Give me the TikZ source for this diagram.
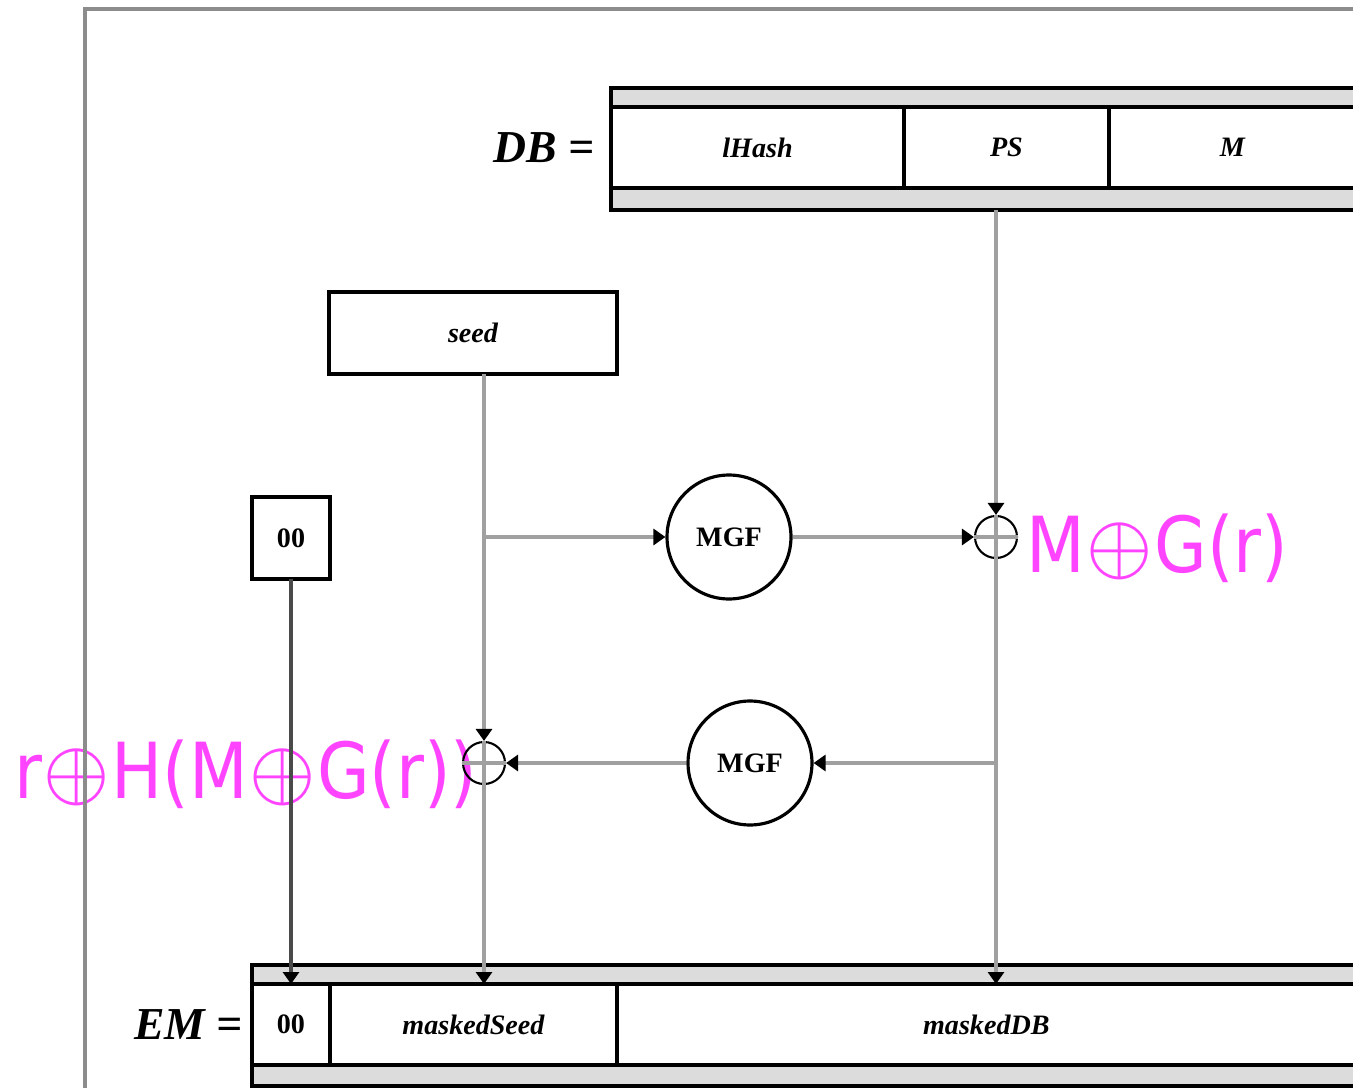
\documentclass[tikz,border=0pt]{standalone}
\usepackage{graphicx}
\usepackage{fontspec}
\setmainfont{Liberation Serif}
\newfontfamily\magfont[FakeStretch=0.88]{DejaVu Sans}
\usetikzlibrary{arrows.meta, positioning, calc}
\definecolor{bandgray}{HTML}{DCDCDC}
\definecolor{wiregray}{HTML}{A0A0A0}
\definecolor{wiredark}{HTML}{4A4A4A}
\definecolor{framegray}{HTML}{8C8C8C}
\definecolor{annot}{HTML}{FF44FF}
\newcommand\oplusthin{\kern-0.05cm{\fontsize{5}{6}\selectfont\raisebox{0.07cm}{\scalebox{7.8}{$\oplus$}}}\kern-0.05cm}

\begin{document}
\begin{tikzpicture}[
        x=0.02cm, y=-0.02cm,
        lbl/.style={font=\fontsize{16}{18}\selectfont\bfseries\itshape},
        cell/.style={
            rectangle,
            draw=black, line width=2pt,
            fill=white,
            inner sep=0pt, outer sep=0pt,
            minimum height=1.62cm,
            lbl
        },
        band/.style={rectangle, draw=black, line width=2pt, fill=bandgray, inner sep=0pt, outer sep=0pt},
        fnode/.style={circle, draw=black, line width=1.8pt, minimum size=2.48cm, inner sep=0pt, font=\fontsize{16}{18}\selectfont\bfseries},
        xornode/.style={circle, draw=black, line width=1.2pt, minimum size=0.84cm, inner sep=0pt},
        eqlabel/.style={inner sep=0pt, font=\fontsize{26}{30}\selectfont\bfseries\itshape},
        annotation/.style={inner sep=0pt, text=annot, font=\magfont\fontsize{44}{48}\selectfont},
        wire/.style={draw=wiregray, line width=1.8pt},
        arr/.style={-{Triangle[length=0.24cm, width=0.32cm, color=black]}}
    ]

    \useasboundingbox (0,0) rectangle (1353,1088);
    \clip (0,0) rectangle (1353,1088);

    % Annotations (under the wires)
    \node[annotation, anchor=base west] (lblmg) at (1026,572) {M\oplusthin G(r)};
    \node[annotation, anchor=base west] (lblout) at (14,798) {r\oplusthin H(M\oplusthin G(r))};

    % Frame
    \draw[framegray, line width=2.4pt] (85,1100) -- (85,9) -- (1370,9);

    % DB
    \node[cell, minimum width=5.86cm, anchor=north west] (lhash) at (611,107) {lHash};
    \node[cell, minimum width=4.1cm, right=0pt of lhash] (ps) {PS};
    \node[cell, minimum width=4.94cm, right=0pt of ps] (m) {M};
    \node[band, minimum width=14.9cm, minimum height=0.38cm, anchor=south west] (dbtop) at (lhash.north west) {};
    \node[band, minimum width=14.9cm, minimum height=0.44cm, anchor=north west] (dbbot) at (lhash.south west) {};
    \node[eqlabel, left=0.32cm of lhash] (dblbl) {DB =};

    % Inputs
    \node[cell, minimum width=5.76cm, minimum height=1.64cm] (seed) at (473,333) {seed};
    \node[cell, minimum width=1.56cm, minimum height=1.64cm, font=\fontsize{16}{18}\selectfont\bfseries] (zero) at (291,538) {00};

    % Mask generation
    \node[fnode] (mgfa) at (729,537) {MGF};
    \node[fnode] (mgfb) at (750,763) {MGF};
    \node[xornode] (xora) at (996,537) {};
    \node[xornode] (xorb) at (484,763) {};

    % EM
    \node[cell, minimum width=1.56cm, anchor=north west, font=\fontsize{16}{18}\selectfont\bfseries] (emzero) at (252,984) {00};
    \node[cell, minimum width=5.74cm, right=0pt of emzero] (emseed) {maskedSeed};
    \node[cell, minimum width=14.78cm, right=0pt of emseed] (emdb) {maskedDB};
    \node[band, minimum width=22.08cm, minimum height=0.38cm, anchor=south west] (emtop) at (emzero.north west) {};
    \node[band, minimum width=22.08cm, minimum height=0.42cm, anchor=north west] (embot) at (emzero.south west) {};
    \node[eqlabel, left=0.18cm of emzero] (emlbl) {EM =};

    \coordinate (split) at (xorb |- mgfa);
    \coordinate (tap) at (xora |- mgfb);

    % Wires
    \draw[wire, arr] (seed.south -| xorb) -- (xorb.north);
    \draw[wire, arr] (xorb.south) -- (xorb |- emseed.north);
    \draw[wire, arr] (split) -- (mgfa.west);
    \draw[wire, arr] (mgfa.east) -- (xora.west);
    \draw[wire, arr] (dbbot.south -| xora) -- (xora.north);
    \draw[wire, arr] (xora.south) -- (xora |- emdb.north);
    \draw[wire, arr] (tap) -- (mgfb.east);
    \draw[wire, arr] (mgfb.west) -- (xorb.east);
    \draw[wire, draw=wiredark, arr] (zero.south) -- (zero.south |- emzero.north);
    \foreach \x in {xora, xorb}
        \draw[wire] (\x.north) -- (\x.south) (\x.west) -- (\x.east);

\end{tikzpicture}
\end{document}
